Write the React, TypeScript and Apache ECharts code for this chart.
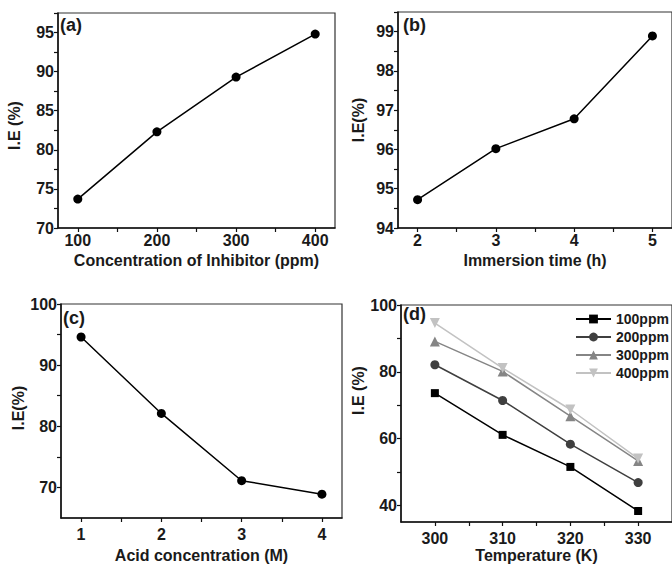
import React, { useEffect, useRef } from "react";
import * as echarts from "echarts";

// (a) concentration of inhibitor
const concPpm = [100, 200, 300, 400];
const ieConc = [73.7, 82.3, 89.3, 94.8];
const concTicks = [100, 200, 300, 400];
const concMinor = [150, 250, 350];
const ieConcTicks = [70, 75, 80, 85, 90, 95];
const ieConcMinor = [72.5, 77.5, 82.5, 87.5, 92.5, 97.5];

// (b) immersion time
const immersionH = [2, 3, 4, 5];
const ieTime = [94.72, 96.02, 96.78, 98.89];
const timeTicks = [2, 3, 4, 5];
const timeMinor = [2.5, 3.5, 4.5];
const ieTimeTicks = [94, 95, 96, 97, 98, 99];
const ieTimeMinor = [94.5, 95.5, 96.5, 97.5, 98.5, 99.5];

// (c) acid concentration
const acidM = [1, 2, 3, 4];
const ieAcid = [94.6, 82.1, 71.1, 68.9];
const acidTicks = [1, 2, 3, 4];
const acidMinor = [1.5, 2.5, 3.5];
const ieAcidTicks = [70, 80, 90, 100];
const ieAcidMinor = [75, 85, 95];

// (d) temperature
const tempK = [300, 310, 320, 330];
const ie100 = [73.6, 61.1, 51.5, 38.3];
const ie200 = [82.1, 71.4, 58.3, 46.8];
const ie300 = [89.1, 80.1, 66.7, 53.3];
const ie400 = [94.6, 81.1, 68.7, 54.0];
const tempTicks = [300, 310, 320, 330];
const tempMinor = [305, 315, 325];
const ieTempTicks = [40, 60, 80, 100];
const ieTempMinor = [50, 70, 90];

const FONT = "'Liberation Sans', Arial, sans-serif";
const TXT = "#1a1a1a";

function pairs(xs: number[], ys: number[]) {
  return xs.map((x, i) => [x, ys[i]]);
}

function xAx(idx: number, min: number, max: number, labels: number[], minor: number[], name: string, gap: number, margin: number) {
  return {
    type: "value",
    gridIndex: idx,
    min,
    max,
    name,
    nameLocation: "middle",
    nameGap: gap,
    nameTextStyle: { fontFamily: FONT, fontWeight: "bold", fontSize: 16, color: TXT },
    axisLine: { show: true, lineStyle: { color: "#111", width: 1.5 } },
    axisTick: { show: true, length: 4, customValues: [...labels, ...minor].sort((a, b) => a - b), lineStyle: { color: "#111", width: 1.2 } },
    axisLabel: { customValues: labels, margin, fontFamily: FONT, fontWeight: "bold", fontSize: 16, color: TXT },
    splitLine: { show: false },
  };
}

function yAx(idx: number, min: number, max: number, labels: number[], minor: number[], name: string, gap: number, pad: number[]) {
  return {
    type: "value",
    gridIndex: idx,
    min,
    max,
    name,
    nameLocation: "middle",
    nameGap: gap,
    nameTextStyle: { fontFamily: FONT, fontWeight: "bold", fontSize: 16, color: TXT, padding: pad },
    axisLine: { show: true, lineStyle: { color: "#111", width: 1.5 } },
    axisTick: { show: true, length: 4, customValues: [...labels, ...minor].sort((a, b) => a - b), lineStyle: { color: "#111", width: 1.2 } },
    axisLabel: { customValues: labels, margin: 4, fontFamily: FONT, fontWeight: "bold", fontSize: 16, color: TXT },
    splitLine: { show: false },
  };
}

function lineSeries(name: string, idx: number, data: number[][], color: string, symbol: string, size: number, rotate = 0) {
  return {
    type: "line",
    name,
    xAxisIndex: idx,
    yAxisIndex: idx,
    data,
    symbol,
    symbolSize: size,
    symbolRotate: rotate,
    showSymbol: true,
    lineStyle: { color, width: 1.5 },
    itemStyle: { color, borderWidth: 0 },
  };
}

const gridBox = { show: true, borderColor: "#333", borderWidth: 1.2, backgroundColor: "transparent" };

export default function App() {
  const ref = useRef<HTMLDivElement>(null);
  useEffect(() => {
    if (!ref.current) return;
    const chart = echarts.init(ref.current, null, { renderer: "svg" });
    chart.setOption({
      animation: false,
      backgroundColor: "#ffffff",
      grid: [
        { ...gridBox, left: 58, top: 13, width: 277, height: 215 },
        { ...gridBox, left: 398, top: 12, width: 279, height: 216 },
        { ...gridBox, left: 61, top: 304, width: 281, height: 215 },
        { ...gridBox, left: 401, top: 305, width: 296, height: 222 },
      ],
      xAxis: [
        xAx(0, 75, 425, concTicks, concMinor, "Concentration of Inhibitor (ppm)", 24, 4),
        xAx(1, 1.75, 5.25, timeTicks, timeMinor, "Immersion time (h)", 24, 4),
        xAx(2, 0.75, 4.25, acidTicks, acidMinor, "Acid concentration (M)", 29, 8),
        xAx(3, 295, 335, tempTicks, tempMinor, "Temperature (K)", 25, 8),
      ],
      yAxis: [
        yAx(0, 70, 97.5, ieConcTicks, ieConcMinor, "I.E (%)", 36, [0, 10, 0, 0]),
        yAx(1, 94, 99.5, ieTimeTicks, ieTimeMinor, "I.E(%)", 32, [0, 0, 0, 0]),
        yAx(2, 65, 100, ieAcidTicks, ieAcidMinor, "I.E(%)", 28, [0, 0, 0, 6]),
        yAx(3, 35, 100, ieTempTicks, ieTempMinor, "I.E (%)", 30, [0, 0, 0, 46]),
      ],
      legend: {
        show: true,
        orient: "vertical",
        left: 570,
        top: 307,
        itemWidth: 35,
        itemHeight: 11,
        itemGap: 4,
        data: ["100ppm", "200ppm", "300ppm", "400ppm"],
        textStyle: { fontFamily: FONT, fontWeight: "bold", fontSize: 14, color: TXT },
      },
      graphic: [
        { type: "text", left: 60, top: 16, style: { text: "(a)", font: `bold 18px ${FONT}`, fill: TXT } },
        { type: "text", left: 403, top: 16, style: { text: "(b)", font: `bold 18px ${FONT}`, fill: TXT } },
        { type: "text", left: 63, top: 309, style: { text: "(c)", font: `bold 18px ${FONT}`, fill: TXT } },
        { type: "text", left: 403, top: 305, style: { text: "(d)", font: `bold 18px ${FONT}`, fill: TXT } },
      ],
      series: [
        lineSeries("a", 0, pairs(concPpm, ieConc), "#000000", "circle", 9),
        lineSeries("b", 1, pairs(immersionH, ieTime), "#000000", "circle", 9),
        lineSeries("c", 2, pairs(acidM, ieAcid), "#000000", "circle", 9),
        lineSeries("100ppm", 3, pairs(tempK, ie100), "#000000", "rect", 8),
        lineSeries("200ppm", 3, pairs(tempK, ie200), "#3f3f3f", "circle", 9),
        lineSeries("300ppm", 3, pairs(tempK, ie300), "#858585", "triangle", 10),
        lineSeries("400ppm", 3, pairs(tempK, ie400), "#c2c2c2", "triangle", 10, 180),
      ],
    });
    return () => chart.dispose();
  }, []);
  return (
    <div
      ref={ref}
      style={{ position: "fixed", left: 0, top: 0, width: 672, height: 564, background: "#fff" }}
    />
  );
}
